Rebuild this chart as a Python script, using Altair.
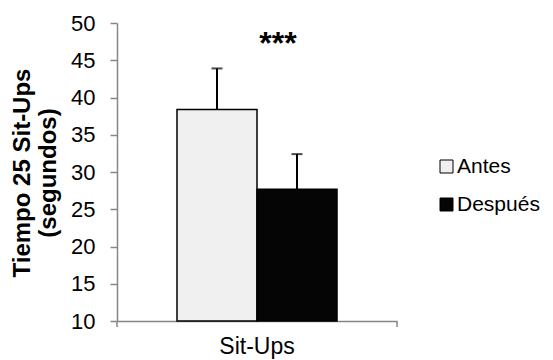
import altair as alt
import pandas as pd

ejercicio = ["Sit-Ups", "Sit-Ups"]
grupos = ["Antes", "Después"]
medias = [38.4, 27.7]
errores = [5.5, 4.7]
colores = ["#f0f0f0", "#050505"]
y_ticks = [10, 15, 20, 25, 30, 35, 40, 45, 50]

df = pd.DataFrame({
    "Ejercicio": ejercicio,
    "Grupo": grupos,
    "Media": medias,
    "Sup": [m + e for m, e in zip(medias, errores)],
})

FONT = "Liberation Sans"
GRAY = "#868686"

x_enc = alt.X("Ejercicio:N", scale=alt.Scale(domain=["Sit-Ups"], paddingOuter=0.375, paddingInner=0),
              axis=alt.Axis(title=None, labelAngle=0, labelFontSize=23, labelFont=FONT, labelColor="black",
                            labelPadding=14, ticks=False, domainColor=GRAY, domainWidth=1.5))
xo_enc = alt.XOffset("Grupo:N", scale=alt.Scale(domain=grupos, paddingInner=0, paddingOuter=0))
y_scale = alt.Scale(domain=[10, 50], nice=False, zero=False)
y_axis = alt.Axis(values=y_ticks, tickCount=9, grid=False, labelFontSize=22, labelFont=FONT, labelColor="black",
                  labelOverlap=False, tickColor=GRAY, domainColor=GRAY, domainWidth=1.5, tickWidth=1.5,
                  tickSize=7, labelPadding=15,
                  title=["Tiempo 25 Sit-Ups", "(segundos)"], titleFont=FONT, titleFontSize=24,
                  titleFontWeight="bold", titleColor="black", titleX=-107, titleY=149.5,
                  titleAlign="center", titleBaseline="top", titleLineHeight=26)

base = alt.Chart(df)

bars = base.mark_bar(stroke="black", strokeWidth=1.5).encode(
    x=x_enc,
    xOffset=xo_enc,
    y=alt.Y("Media:Q", scale=y_scale, axis=y_axis),
    y2=alt.datum(10),
    fill=alt.Fill("Grupo:N", scale=alt.Scale(domain=grupos, range=colores),
                  legend=alt.Legend(title=None, orient="none", legendX=319, legendY=133,
                                    symbolType="square", symbolSize=169, symbolStrokeColor="black",
                                    symbolStrokeWidth=1, labelFont=FONT, labelFontSize=21,
                                    labelColor="black", labelOffset=0, rowPadding=16,
                                    labelLimit=200)),
)

err = base.mark_rule(color="black", strokeWidth=2).encode(
    x=x_enc, xOffset=xo_enc, y=alt.Y("Media:Q", scale=y_scale, axis=y_axis), y2="Sup:Q"
)
caps = base.mark_tick(color="black", thickness=2, size=11).encode(
    x=x_enc, xOffset=xo_enc, y=alt.Y("Sup:Q", scale=y_scale, axis=y_axis)
)

ticks_x = alt.Chart(pd.DataFrame({"t": [0]})).mark_rule(color=GRAY, strokeWidth=1.5).encode(
    x=alt.value(0), y=alt.value(298), y2=alt.value(304)
)
ticks_x2 = alt.Chart(pd.DataFrame({"t": [0]})).mark_rule(color=GRAY, strokeWidth=1.5).encode(
    x=alt.value(280), y=alt.value(298), y2=alt.value(304)
)

stars = alt.Chart(pd.DataFrame({"Ejercicio": ["Sit-Ups"], "s": ["***"]})).mark_text(
    fontSize=32, fontWeight="bold", font=FONT, color="black", dx=21, baseline="alphabetic"
).encode(x=x_enc, y=alt.datum(45.8), text="s:N")

chart = alt.layer(bars, err, caps, ticks_x, ticks_x2, stars).properties(
    width=280, height=298,
    autosize=alt.AutoSizeParams(type="none"),
    padding={"left": 109, "top": 15, "right": 148, "bottom": 39},
).configure_view(stroke=None)

chart.save("out.html", embed_options={"renderer": "svg", "actions": False})
